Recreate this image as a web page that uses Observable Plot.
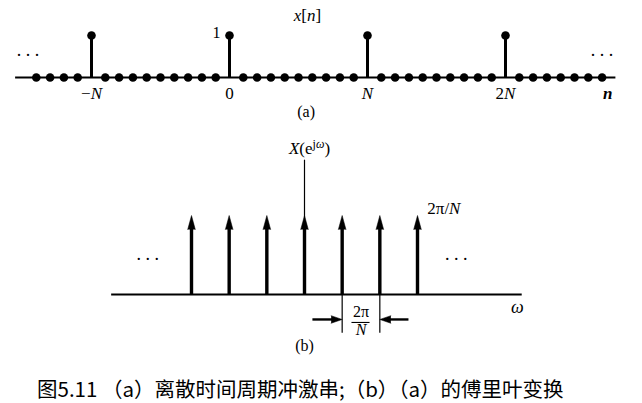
<!DOCTYPE html>
<html>
<head>
<meta charset="utf-8">
<script src="https://cdn.jsdelivr.net/npm/d3@7"></script>
<script src="https://cdn.jsdelivr.net/npm/@observablehq/plot@0.6"></script>
<style>
  html, body { margin: 0; padding: 0; background: #fff; }
  #wrap { width: 642px; height: 403px; position: relative; overflow: hidden; background: #fff; }
  svg { display: block; }
  #caption { height: 38px; box-sizing: border-box; font-family: "Noto Sans CJK SC", sans-serif; font-size: 20.5px; line-height: 1; color: #000; padding-left: 37px; padding-top: 13px; white-space: pre; }
</style>
</head>
<body>
<div id="wrap"></div>
<script>
// ---- (a) discrete-time periodic impulse train ----
const sampleN = [-14,-13,-12,-11,-10,-9,-8,-7,-6,-5,-4,-3,-2,-1,0,1,2,3,4,5,6,7,8,9,10,11,12,13,14,15,16,17,18,19,20,21,22,23,24,25,26,27];
const sampleX = [0,0,0,0,1,0,0,0,0,0,0,0,0,0,1,0,0,0,0,0,0,0,0,0,1,0,0,0,0,0,0,0,0,0,1,0,0,0,0,0,0,0];
const tickPosA = [-10, 0, 10, 20];
const tickLabelA = ["−N", "0", "N", "2N"];
const axisExtentA = [-15.5, 28];

// ---- (b) its Fourier transform ----
const impulseK = [-3, -2, -1, 0, 1, 2, 3];
const impulseAmp = [1, 1, 1, 1, 1, 1, 1];
const axisExtentB = [-5.12, 5.78];

const captionText = "图5.11 （a）离散时间周期冲激串;（b）（a）的傅里叶变换";

const serif = "'Liberation Serif', 'Times New Roman', serif";
const samples = sampleN.map((n, i) => ({n, x: sampleX[i]}));
const impulses = impulseK.map((k, i) => ({k, a: impulseAmp[i]}));
const ticksA = tickPosA.map((n, i) => ({n, label: tickLabelA[i]}));

const plotA = Plot.plot({
  width: 642, height: 125,
  style: {background: "#fff", fontFamily: serif},
  x: {domain: [-14, 27], range: [35.8, 601.6], axis: null},
  y: {domain: [0, 1], range: [77, 35], axis: null},
  marks: [
    Plot.ruleY([0], {x1: axisExtentA[0], x2: axisExtentA[1], stroke: "black", strokeWidth: 1.8}),
    Plot.ruleX(samples.filter(d => d.x > 0), {x: "n", y1: 0, y2: "x", stroke: "black", strokeWidth: 3}),
    Plot.dot(samples, {x: "n", y: "x", r: 4.3, fill: "black", stroke: null}),
    Plot.text(ticksA, {x: "n", y: -0.38, text: "label", fontSize: 17}),
    Plot.text(["1"], {x: 0, y: 1, dx: -9, dy: -3, textAnchor: "end", text: d => d, fontSize: 16}),
    Plot.text(["x[n]"], {x: 5.65, y: 1.47, text: d => d, fontSize: 17}),
    Plot.text(["n"], {x: 27.4, y: -0.38, text: d => d, fontSize: 17, fontWeight: "bold", fontStyle: "italic"}),
    Plot.text(["(a)"], {x: 5.55, y: -0.83, text: d => d, fontSize: 16}),
    Plot.text([". . ."], {x: -14.6, y: 0.64, text: d => d, fontSize: 18}),
    Plot.text([". . ."], {x: 27.0, y: 0.64, text: d => d, fontSize: 18})
  ]
});

const plotB = Plot.plot({
  width: 642, height: 240,
  style: {background: "#fff", fontFamily: serif},
  x: {domain: [-3, 3], range: [191, 417], axis: null},
  y: {domain: [0, 1], range: [169, 90], axis: null},
  marks: [
    Plot.ruleY([0], {x1: axisExtentB[0], x2: axisExtentB[1], stroke: "black", strokeWidth: 1.8}),
    Plot.ruleX([0], {x: d => d, y1: 0, y2: 1.70, stroke: "black", strokeWidth: 1.2}),
    Plot.ruleX(impulses, {x: "k", y1: 0, y2: d => d.a * 0.9, stroke: "black", strokeWidth: 3.4}),
    Plot.vector(impulses, {x: "k", y: "a", length: 14, r: 3.8, shape: "spike", anchor: "end", fill: "black", stroke: "black", strokeWidth: 0.5}),
    Plot.text(["X(ejω)"], {x: 0, y: 1.85, dx: 5, text: d => d, fontSize: 17}),
    Plot.text(["2π/N"], {x: 3.26, y: 1.09, textAnchor: "start", text: d => d, fontSize: 17}),
    Plot.text([". . ."], {x: -4.16, y: 0.51, text: d => d, fontSize: 18}),
    Plot.text([". . ."], {x: 4.03, y: 0.51, text: d => d, fontSize: 18}),
    Plot.text(["ω"], {x: 5.65, y: -0.16, text: d => d, fontSize: 18, fontStyle: "italic"}),
    // spacing indicator between k=1 and k=2
    Plot.ruleX([1, 2], {x: d => d, y1: 0, y2: -0.49, stroke: "black", strokeWidth: 1.2}),
    Plot.link([{a: 0.21, b: 0.8}, {a: 2.76, b: 2.2}], {x1: "a", x2: "b", y1: -0.316, y2: -0.316, stroke: "black", strokeWidth: 2.4}),
    Plot.vector([{k: 1, r: 90}, {k: 2, r: -90}], {x: "k", y: -0.316, rotate: "r", length: 11, r: 3.8, shape: "spike", anchor: "end", fill: "black", stroke: "black", strokeWidth: 0.5}),
    Plot.text(["2π"], {x: 1.5, y: -0.215, text: d => d, fontSize: 16}),
    Plot.ruleY([-0.354], {x1: 1.26, x2: 1.74, stroke: "black", strokeWidth: 1.1}),
    Plot.text(["N"], {x: 1.5, y: -0.45, text: d => d, fontSize: 16, fontStyle: "italic"}),
    Plot.text(["(b)"], {x: 0, y: -0.645, text: d => d, fontSize: 16})
  ]
});

// rich-text touch-ups (italic letters, superscript)
function rich(svg, plain, html) {
  d3.select(svg).selectAll("text").filter(function() { return this.textContent === plain; })
    .each(function() { this.innerHTML = html; });
}
const I = s => `<tspan font-style="italic">${s}</tspan>`;
rich(plotA, "−N", `−${I("N")}`);
rich(plotA, "N", I("N"));
rich(plotA, "2N", `2${I("N")}`);
rich(plotA, "x[n]", `${I("x")}[${I("n")}]`);
rich(plotB, "X(ejω)", `${I("X")}(e<tspan dy="-6" font-size="12">j${I("ω")}</tspan><tspan dy="6">)</tspan>`);
rich(plotB, "2π/N", `2π/${I("N")}`);

const wrap = document.getElementById("wrap");
wrap.appendChild(plotA);
wrap.appendChild(plotB);
const cap = document.createElement("div");
cap.id = "caption";
cap.textContent = captionText;
wrap.appendChild(cap);
</script>
</body>
</html>
